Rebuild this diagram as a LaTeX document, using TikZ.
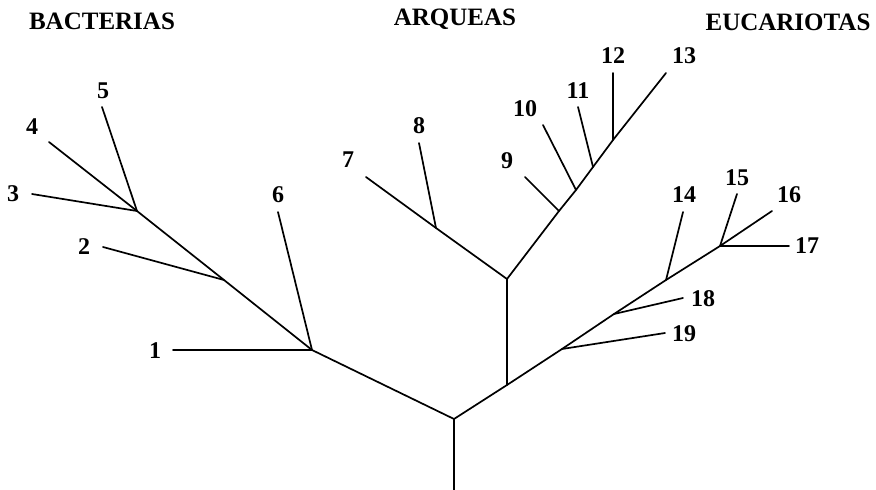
\documentclass[tikz,border=0pt]{standalone}
\usepackage{fontspec}
\setmainfont{Liberation Serif}
\begin{document}
\begin{tikzpicture}[x=1pt,y=-1pt,
  br/.style={line width=1.7pt,line cap=round,line join=round},
  lbl/.style={font=\fontsize{24}{26}\selectfont\bfseries,inner sep=0pt},
  grp/.style={font=\fontsize{25}{28}\selectfont\bfseries,inner sep=0pt}]
\useasboundingbox (0,0) rectangle (876,490);
% titles
\node[grp] (tb) at (102,21) {BACTERIAS};
\node[grp] (ta) at (455,19) {ARQUEAS};
\node[grp] (te) at (788,22) {EUCARIOTAS};
% internal points
\coordinate (base) at (454,490);
\coordinate (R) at (454,419);
\coordinate (B1) at (312,350);
\coordinate (B2) at (224,280);
\coordinate (B3) at (137,211);
\coordinate (A0) at (507,385);
\coordinate (A1) at (507,279);
\coordinate (A2) at (436,228);
\coordinate (A3) at (559,211);
\coordinate (A4) at (576,190);
\coordinate (A5) at (593,167);
\coordinate (A6) at (613,140);
\coordinate (E1) at (562,349);
\coordinate (E2) at (614,314);
\coordinate (E3) at (666,280);
\coordinate (E4) at (720,246);
% leaf ends
\coordinate (l1) at (173,350);
\coordinate (l2) at (103,247);
\coordinate (l3) at (32,194);
\coordinate (l4) at (49,142);
\coordinate (l5) at (102,107);
\coordinate (l6) at (278,212);
\coordinate (l7) at (366,177);
\coordinate (l8) at (419,143);
\coordinate (l9) at (525,177);
\coordinate (l10) at (543,125);
\coordinate (l11) at (578,107);
\coordinate (l12) at (613,73);
\coordinate (l13) at (666,73);
\coordinate (l14) at (683,212);
\coordinate (l15) at (737,194);
\coordinate (l16) at (772,211);
\coordinate (l17) at (789,246);
\coordinate (l18) at (683,298);
\coordinate (l19) at (665,333);
% labels
\node[lbl] (n1) at (155,351) {1};
\node[lbl] (n2) at (84,247) {2};
\node[lbl] (n3) at (13,194) {3};
\node[lbl] (n4) at (32,127) {4};
\node[lbl] (n5) at (103,91) {5};
\node[lbl] (n6) at (278,195) {6};
\node[lbl] (n7) at (348,160) {7};
\node[lbl] (n8) at (419,126) {8};
\node[lbl] (n9) at (507,161) {9};
\node[lbl] (n10) at (525,109) {10};
\node[lbl] (n11) at (578,91) {11};
\node[lbl] (n12) at (613,56) {12};
\node[lbl] (n13) at (684,56) {13};
\node[lbl] (n14) at (684,195) {14};
\node[lbl] (n15) at (737,178) {15};
\node[lbl] (n16) at (789,195) {16};
\node[lbl] (n17) at (807,246) {17};
\node[lbl] (n18) at (703,299) {18};
\node[lbl] (n19) at (684,334) {19};
% branches
\draw[br] (base) -- (R);
\draw[br] (R) -- (B1) -- (B2) -- (B3);
\draw[br] (B1) -- (l1);
\draw[br] (B1) -- (l6);
\draw[br] (B2) -- (l2);
\draw[br] (B3) -- (l3);
\draw[br] (B3) -- (l4);
\draw[br] (B3) -- (l5);
\draw[br] (R) -- (A0) -- (E1) -- (E2) -- (E3) -- (E4);
\draw[br] (A0) -- (A1);
\draw[br] (A1) -- (A2) -- (l7);
\draw[br] (A2) -- (l8);
\draw[br] (A1) -- (A3) -- (A4) -- (A5) -- (A6) -- (l13);
\draw[br] (A3) -- (l9);
\draw[br] (A4) -- (l10);
\draw[br] (A5) -- (l11);
\draw[br] (A6) -- (l12);
\draw[br] (E1) -- (l19);
\draw[br] (E2) -- (l18);
\draw[br] (E3) -- (l14);
\draw[br] (E4) -- (l15);
\draw[br] (E4) -- (l16);
\draw[br] (E4) -- (l17);
\end{tikzpicture}
\end{document}
